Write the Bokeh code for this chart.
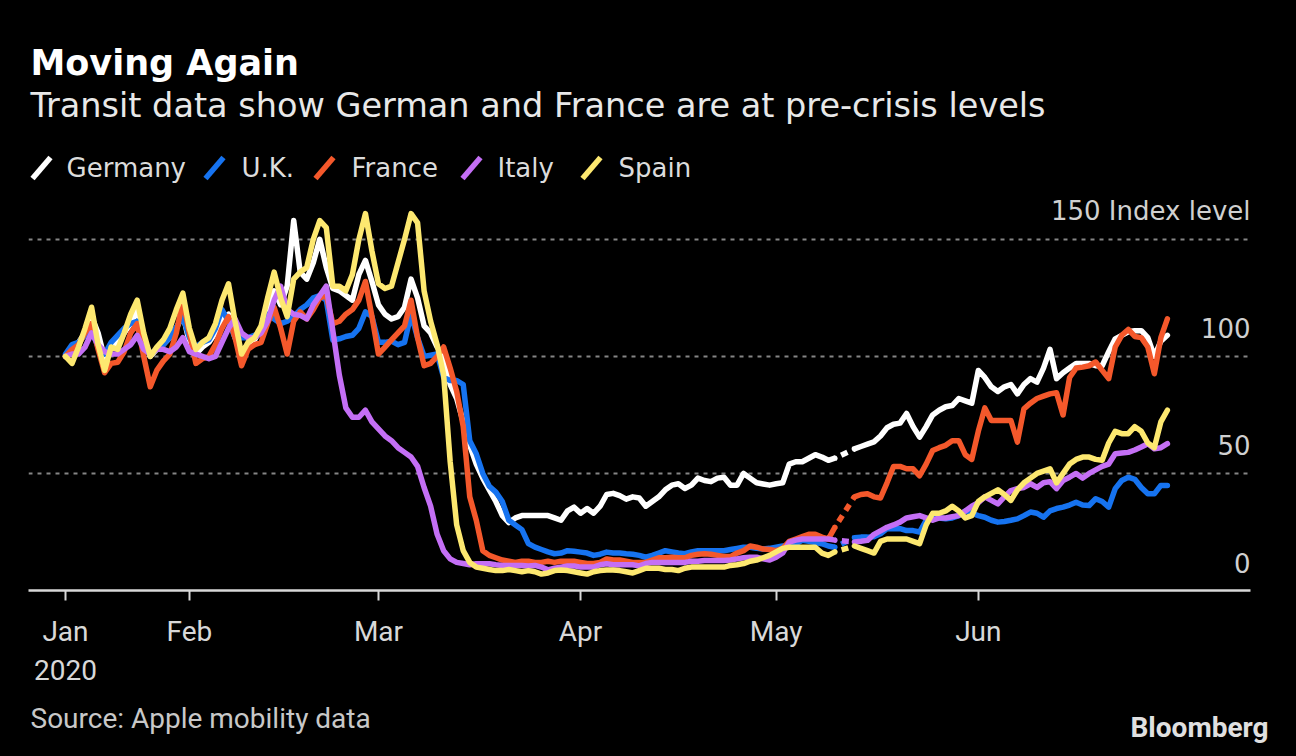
import pandas as pd
from bokeh.plotting import figure
from bokeh.layouts import column
from bokeh.models import Range1d, FixedTicker, Grid, Label
from bokeh.embed import file_html
from bokeh.resources import INLINE

NA = float("nan")

# ---------------- data (Apple mobility, transit, index Jan 13 = 100) ----------------
start_date = "2020-01-13"
gap_days = [119, 120]          # May 11-12: no data published

germany = [
    100, 103, 106, 110, 117, 110, 99,
    104, 106, 110, 114, 120, 108, 100,
    103, 105, 108, 112, 118, 106, 101,
    104, 106, 110, 116, 118, 108, 102,
    105, 107, 112, 120, 128, 122, 130,
    158, 136, 133, 140, 150, 138, 129,
    128, 126, 124, 135, 141, 132, 122,
    118, 116, 117, 121, 133, 125, 113,
    110, 104, 100, 88, 82, 72, 62,
    54, 48, 43, 38, 32, 29, 31,
    32, 32, 32, 32, 32, 31, 30,
    34, 35.6, 33, 35, 33, 36, 41,
    41.5, 40.5, 39, 40, 39.5, 36, 38,
    40, 43, 45, 45.6, 43.6, 45, 48,
    47, 46.5, 48, 48.4, 45, 45, 50,
    48, 46, 45.5, 45, 45.6, 46, 54,
    55, 55, 56.5, 58, 57, 55.6, 56.5,
    NA, NA,
    60.5, 61.5, 62.5, 63.5, 66, 69.5, 71,
    71.5, 75.6, 70, 65.5, 70, 75, 77,
    78.5, 79, 82, 81, 80, 94, 91,
    87, 85, 87, 88, 84, 88, 90.5,
    89, 95, 103, 90.5, 93, 95, 97,
    97, 97, 96, 96, 102, 107.5, 109,
    110.5, 111, 111, 108, 100, 106.5, 109,
]

uk = [
    101, 105, 106, 109, 111, 104, 101,
    106, 109, 112, 114, 115, 104, 101,
    103, 105, 108, 112.5, 117, 108, 104,
    106, 107, 112, 120, 115, 108, 108,
    108, 109, 110.5, 118, 116, 114, 115,
    117, 120, 122, 125, 126, 124, 107,
    107.5, 108.5, 109, 112, 119, 117, 106,
    106, 106.5, 105, 106, 118, 108, 100,
    100.5, 101, 91, 89.7, 89.7, 88, 64,
    58.4, 50, 44.5, 42, 38, 30, 28,
    26, 20, 18.5, 17.5, 16.5, 15.7, 16,
    17, 16.8, 16.4, 16, 15, 15.5, 16.4,
    16, 16, 15.7, 15.5, 15, 14.2, 15,
    16, 17, 16.5, 16, 15.7, 16.5, 17,
    17, 17, 17, 17, 17.5, 18, 18.5,
    18.5, 18, 17.7, 18, 18.5, 19, 19.2,
    20, 21.4, 21, 20.5, 20, 19, 18.5,
    NA, NA,
    22.5, 22.8, 22.8, 23, 24.2, 26.4, 26.4,
    26.4, 25.6, 25.6, 25, 30, 31.3, 31,
    30.6, 31, 32, 34, 33, 32, 31.3,
    30, 29.2, 29.5, 30, 30.6, 32, 33.5,
    33, 31.3, 34, 35, 35.6, 36.5, 37.7,
    36.5, 36.3, 39.2, 38, 35.6, 43.5, 47,
    48.4, 47.5, 44, 41.3, 41.3, 44.9, 44.9,
]

france = [
    100, 103, 105, 110, 114, 103, 93,
    97, 97.5, 102, 110, 114, 100, 87,
    94, 98, 101, 110, 124, 110, 97,
    99, 100, 105, 112, 117, 108, 96,
    103, 105, 106, 114, 121, 112, 101,
    115, 119, 116, 120, 125, 126, 114,
    115, 118, 120, 124, 132, 117, 101,
    104, 107, 110, 113, 124, 108, 96,
    97, 100, 104, 95, 85, 70, 40,
    30, 17, 15, 14, 13, 12.5, 12,
    12.5, 12.5, 12, 12, 12.5, 12, 12.5,
    12.5, 12.5, 12, 11.5, 11.5, 12, 13.5,
    13, 13, 12.5, 12, 12, 12, 13,
    14, 14, 14.2, 14, 14, 15, 15.5,
    15.7, 15.5, 15, 14.5, 14.5, 16, 17,
    19, 18.5, 17.7, 17.5, 17, 18, 21,
    22, 23, 24, 24, 22.8, 22, 27,
    NA, NA,
    40, 41, 41.3, 40, 39.5, 46, 53,
    53, 52, 52, 49, 54, 59.8, 61,
    62, 64, 64, 58, 56, 68, 78,
    72.6, 72.6, 72.6, 72.6, 63.4, 77.6, 80,
    82, 83, 84, 84.5, 75, 91, 95,
    95.4, 96, 97.6, 94, 90.5, 104, 109,
    111.5, 108.5, 108, 104, 92.6, 108, 116,
]

italy = [
    100, 101, 101, 104, 110, 105, 102,
    101, 101, 103, 105, 109, 103, 101,
    103, 103, 102, 104, 108, 102, 101,
    100, 99, 100, 106, 112, 116, 110,
    108, 108, 110, 115, 124, 130, 120,
    118, 117.5, 116, 122, 126, 130, 111,
    92, 78, 74, 74, 77, 72, 69,
    66, 64, 61, 59, 57, 53, 44,
    36, 24, 17, 13.5, 12, 11.5, 11,
    11.4, 11.4, 11.4, 11, 10.7, 10.7, 10.7,
    10.7, 10.5, 10.7, 10, 8.8, 9.5, 10,
    10.5, 10.5, 10, 10, 10, 11, 11.4,
    11, 11, 11, 11, 10.5, 11.5, 12,
    12, 12, 12, 12, 12, 12.5, 12.5,
    12.8, 12.8, 12.8, 12.8, 13, 13.5, 14,
    14.2, 14.2, 13.5, 13, 14.2, 16, 20.7,
    21.5, 22, 22, 22, 22, 22, 21.5,
    NA, NA,
    20.7, 21, 21.4, 24, 25.5, 27, 28,
    29.2, 31, 31.5, 32, 31, 30, 31,
    31, 31.5, 32, 34, 36, 37.5, 40,
    38.5, 37, 40, 42.7, 43.5, 44, 45.6,
    44, 46, 46.5, 43.5, 47, 48.4, 50,
    48, 50, 51.5, 53, 54, 58.4, 58.7,
    59, 60, 61.3, 62.7, 60.5, 61, 62.7,
]

spain = [
    100, 97, 104, 112, 121, 105, 94,
    104, 103, 110, 118, 124, 110, 100,
    104, 107, 112, 120, 127, 112, 103,
    106, 108, 114, 124, 131, 115, 101,
    106, 108, 113, 125, 136, 125, 117,
    133, 136, 138, 150, 158, 155, 130,
    130, 128, 135, 150, 161, 145, 131,
    129, 130, 140, 150, 161, 157, 128,
    115, 105, 92, 55, 28, 17, 12,
    10, 9.5, 9, 8.5, 8.5, 9, 8.5,
    8, 8.5, 8, 7, 7.5, 8.5, 8.8,
    8.5, 8, 7.5, 7, 8, 8.5, 8.8,
    8.8, 8.5, 8, 7.5, 8.5, 9.5, 9.5,
    9.5, 9, 9, 8.5, 9.5, 10, 10,
    10, 10, 10, 10, 10.7, 11, 11.5,
    12.5, 13, 14, 15, 16.5, 18, 18.5,
    18.5, 18.5, 18.5, 18.5, 16, 15, 16.5,
    NA, NA,
    19, 18, 17, 16, 21, 22, 22,
    22, 22, 21, 20, 28, 33, 33,
    34, 36, 34, 31, 32, 38, 40,
    41.5, 43, 41, 38.5, 43, 46, 48,
    50, 51, 52, 46, 50, 54, 56,
    57, 57, 56, 55.6, 63, 68, 67,
    67, 70, 68, 63, 61, 72, 77,
]

series_names = ["Germany", "U.K.", "France", "Italy", "Spain"]
series_values = [germany, uk, france, italy, spain]
series_colors = ["#ffffff", "#1673f0", "#f4582b", "#c46ff5", "#fde870"]

tick_dates = ["2020-01-13", "2020-02-01", "2020-03-01", "2020-04-01", "2020-05-01", "2020-06-01"]
tick_labels = ["Jan\n2020", "Feb", "Mar", "Apr", "May", "Jun"]
y_ticks = [0, 50, 100, 150]
y_tick_labels = ["0", "50", "100", "150 Index level"]

title_text = "Moving Again"
subtitle_text = "Transit data show German and France are at pre-crisis levels"
source_text = "Source: Apple mobility data"
brand_text = "Bloomberg"

# ---------------- layout ----------------
W = 1280
HEAD_H, CHART_H, FOOT_H = 192, 510, 50
FRAME_L, FRAME_R = 28, 1250
X0_PX, PX_PER_DAY = 65, 6.52          # first data day sits at x=65 px

dates = pd.date_range(start_date, periods=len(germany), freq="D")
DAY_MS = 86400000
day0_ms = pd.Timestamp(start_date).value // 10**6

def X(px):
    return day0_ms + (px - X0_PX) / PX_PER_DAY * DAY_MS

def blank(h):
    f = figure(width=W, height=h, output_backend="svg", toolbar_location=None,
               x_axis_location=None, y_axis_location=None,
               x_range=Range1d(0, W), y_range=Range1d(h, 0), min_border=0)
    f.background_fill_color = "black"
    f.border_fill_color = "black"
    f.outline_line_color = None
    f.grid.visible = False
    return f

# ---------------- header ----------------
head = blank(HEAD_H)
head.add_layout(Label(x=30, y=62, text=title_text, text_font="DejaVu Sans",
                      text_font_style="bold", text_font_size="35px", text_color="white",
                      text_baseline="middle"))
head.add_layout(Label(x=30, y=105, text=subtitle_text, text_font="DejaVu Sans",
                      text_font_size="33.5px", text_color="#e8e8e8", text_baseline="middle"))
leg_slash_x = [32, 205, 315, 462, 582]
leg_text_x = [66, 241, 351, 497, 618]
head.segment(x0=leg_slash_x, y0=[178] * 5, x1=[v + 18 for v in leg_slash_x], y1=[157] * 5,
             line_color=series_colors, line_width=5.5)
for name, tx in zip(series_names, leg_text_x):
    head.add_layout(Label(x=tx, y=167, text=name, text_font="DejaVu Sans",
                          text_font_size="26px", text_color="#dcdcdc", text_baseline="middle"))

# ---------------- chart ----------------
p = figure(width=W, height=CHART_H, output_backend="svg", toolbar_location=None,
           x_axis_type="datetime", y_axis_location=None,
           x_range=Range1d(X(FRAME_L), X(FRAME_R)), y_range=Range1d(0, 170))
p.min_border_left = FRAME_L
p.min_border_right = W - FRAME_R
p.min_border_top = 0
p.min_border_bottom = CHART_H - 398
p.background_fill_color = "black"
p.border_fill_color = "black"
p.outline_line_color = "black"
p.outline_line_width = 3
p.grid.visible = False

grid = Grid(dimension=1, ticker=FixedTicker(ticks=[t for t in y_ticks if t > 0]),
            grid_line_color="#858585", grid_line_width=2, grid_line_dash="4 5")
p.add_layout(grid)

ax = p.xaxis[0]
tick_ms = [pd.Timestamp(d).value // 10**6 for d in tick_dates]
ax.ticker = FixedTicker(ticks=tick_ms)
ax.major_label_overrides = {t: l for t, l in zip(tick_ms, tick_labels)}
ax.axis_line_color = "#d8d8d8"
ax.axis_line_width = 2.5
ax.major_tick_line_color = "#d8d8d8"
ax.major_tick_line_width = 2
ax.major_tick_out = 10
ax.major_tick_in = 0
ax.minor_tick_line_color = None
ax.major_label_text_font = "Roboto"
ax.major_label_text_font_size = "28px"
ax.major_label_text_color = "#d8d8d8"
ax.major_label_standoff = 14

for name, vals, col in zip(series_names, series_values, series_colors):
    p.line(dates, vals, line_color=col, line_width=5.5, line_join="round", line_cap="round")
    a, b = gap_days[0] - 1, gap_days[-1] + 1
    p.line([dates[a], dates[b]], [vals[a], vals[b]], line_color=col, line_width=5.5,
           line_dash="7 6", line_dash_offset=6)

for t, lab in zip(y_ticks, y_tick_labels):
    p.add_layout(Label(x=X(FRAME_R), y=t, y_offset=28, text=lab, text_align="right",
                       text_baseline="middle", text_font="DejaVu Sans",
                       text_font_size="26px", text_color="#d0d0d0"))

# ---------------- footer ----------------
foot = blank(FOOT_H)
foot.add_layout(Label(x=30, y=16, text=source_text, text_font="Roboto",
                      text_font_size="28px", text_color="#c8c8c8", text_baseline="middle"))
foot.add_layout(Label(x=1268, y=25, text=brand_text, text_font="Roboto",
                      text_font_style="bold", text_font_size="28px", text_color="#e0e0e0",
                      text_align="right", text_baseline="middle"))

layout = column(column(head), p, column(foot), spacing=0)
html = file_html(layout, INLINE)
style = "<style>html, body { background-color: #000000 !important; }</style>"
if "</head>" in html:
    html = html.replace("</head>", style + "</head>", 1)
else:
    html = style + html
open("out.html", "w").write(html)
